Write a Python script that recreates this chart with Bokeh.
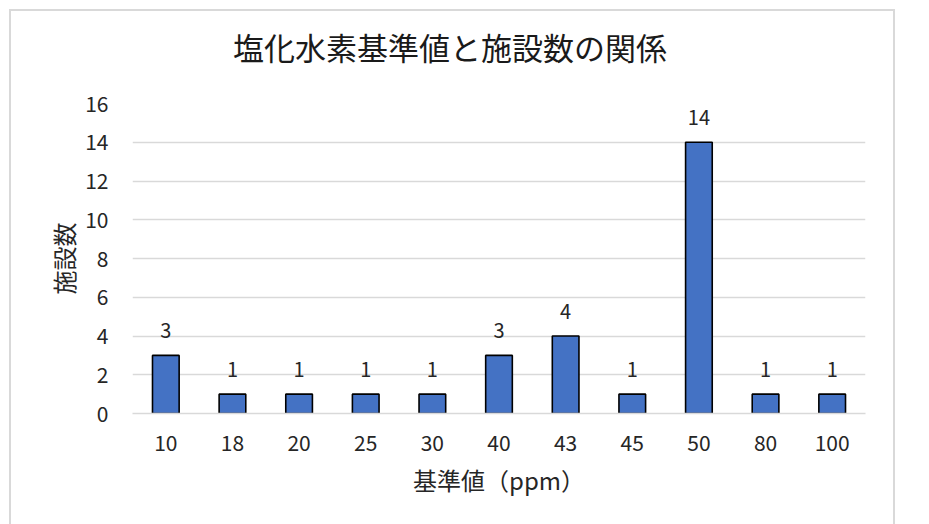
from bokeh.plotting import figure
from bokeh.models import ColumnDataSource, FactorRange, Range1d, FixedTicker, Div
from bokeh.layouts import column
from bokeh.embed import file_html
from bokeh.resources import INLINE

categories = ["10", "18", "20", "25", "30", "40", "43", "45", "50", "80", "100"]
counts = [3, 1, 1, 1, 1, 3, 4, 1, 14, 1, 1]
y_ticks = [0, 2, 4, 6, 8, 10, 12, 14, 16]
title_text = "塩化水素基準値と施設数の関係"
x_title = "基準値（ppm）"
y_title = "施設数"

FONT = "Noto Sans CJK JP"
GRID = "#d9d9d9"
BORDER = "2px solid #d9d9d9"

src = ColumnDataSource(dict(cat=categories, n=counts, lab=[str(c) for c in counts]))

title_div = Div(
    text=title_text, width=886, height=70, margin=0,
    styles={
        "border-top": BORDER, "border-left": BORDER, "border-right": BORDER,
        "padding-left": "222px", "padding-top": "20px",
        "font-family": FONT, "font-size": "31px", "line-height": "1",
        "color": "#1a1a1a", "white-space": "nowrap", "background": "white",
    },
)

p = figure(
    x_range=FactorRange(*categories, range_padding=0),
    y_range=Range1d(0, 16),
    width=886, height=445, margin=0,
    output_backend="svg", toolbar_location=None,
    min_border_left=121, min_border_right=32, min_border_top=24, min_border_bottom=111,
)
p.styles = {"border-left": BORDER, "border-right": BORDER}
p.outline_line_color = None
p.background_fill_color = "white"
p.border_fill_color = "white"

p.vbar(x="cat", top="n", width=0.4, source=src, fill_color="#4472C4",
       line_color="black", line_width=1.6)
p.text(x="cat", y="n", text="lab", source=src, text_align="center",
       text_baseline="alphabetic", y_offset=-25, text_font_size="20px",
       text_color="#262626", text_font={"value": FONT})

p.yaxis.ticker = FixedTicker(ticks=y_ticks)
p.ygrid.grid_line_color = GRID
p.ygrid.grid_line_width = 1.5
p.xgrid.grid_line_color = None

for ax in (p.xaxis[0], p.yaxis[0]):
    ax.major_tick_line_color = None
    ax.minor_tick_line_color = None
    ax.major_label_text_font = FONT
    ax.major_label_text_font_size = "21px"
    ax.major_label_text_color = "#262626"
    ax.axis_label_text_font = FONT
    ax.axis_label_text_font_size = "24px"
    ax.axis_label_text_font_style = "normal"
    ax.axis_label_text_color = "#262626"

p.yaxis.axis_line_color = None
p.xaxis.axis_line_color = GRID
p.xaxis.axis_line_width = 1.5
p.xaxis.axis_label = x_title
p.yaxis.axis_label = y_title
p.yaxis.major_label_standoff = 18
p.xaxis.major_label_standoff = 15
p.yaxis.axis_label_standoff = 1
p.xaxis.axis_label_standoff = 8

layout = column(title_div, p, spacing=0)
layout.styles = {"margin-left": "9px", "margin-top": "9px"}

open("out.html", "w").write(file_html(layout, INLINE))
